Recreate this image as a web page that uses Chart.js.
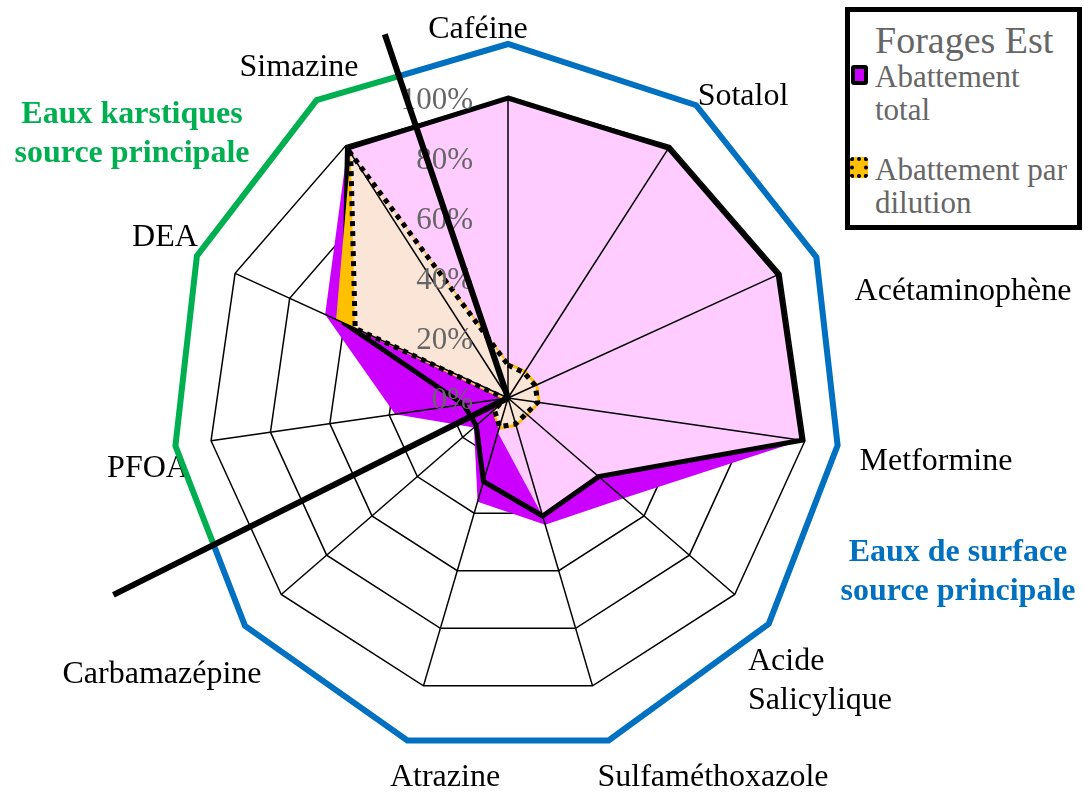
<!DOCTYPE html>
<html lang="fr">
<head>
<meta charset="utf-8">
<title>Forages Est</title>
<script src="https://cdn.jsdelivr.net/npm/chart.js@4.4.1/dist/chart.umd.min.js"></script>
<style>
  html, body { margin: 0; padding: 0; background: #fff; }
  #wrap { position: relative; width: 1084px; height: 794px; overflow: hidden; font-family: 'Liberation Serif', 'DejaVu Serif', serif; }
  #chart { position: absolute; left: 0; top: 0; }
  .group { position: absolute; transform: translateX(-50%); text-align: center; font-weight: bold; font-size: 32px; line-height: 39px; white-space: nowrap; }
  #karst { left: 132px; top: 93px; color: #00B050; }
  #surface { left: 958px; top: 531px; color: #0070C0; }
  #legend { position: absolute; left: 845px; top: 7px; width: 237px; height: 223px; border: 5px solid #000; box-sizing: border-box; background: #fff; }
  #legend .title { position: absolute; left: 25px; top: 9px; font-size: 38px; line-height: 38px; color: #666; white-space: nowrap; }
  #legend .item { position: absolute; left: 25px; width: 205px; font-size: 31px; line-height: 33px; color: #666; }
  #legend .swatch { position: absolute; box-sizing: border-box; border-radius: 3px; }
</style>
</head>
<body>
<div id="wrap">
  <canvas id="chart" width="1084" height="794"></canvas>
  <div class="group" id="karst"></div>
  <div class="group" id="surface"></div>
  <div id="legend"></div>
</div>
<script>
// ---------------- data ----------------
const CATEGORIES = ['Caféine', 'Sotalol', 'Acétaminophène', 'Metformine', ['Acide', 'Salicylique'],
  'Sulfaméthoxazole', 'Atrazine', 'Carbamazépine', 'PFOA', 'DEA', 'Simazine'];
const TICKS = [0, 20, 40, 60, 80, 100];

// Abattement total (%)
const totalLine = [100, 99, 99, 99, 40, 41, 29, 14, 15, 60, 99];
const totalArea = [100, 99, 99, 99, 51, 44, 36, 15, 38, 67, 99];
const totalCore = [100, 99, 99, 99, 40, 41, 12, 3, 0, 50, 99];

// Abattement par dilution (%)
const dilutionLine = [11, 10, 10, 10, 8, 9, 10, 6, 1, 56, 97];
const dilutionArea = [12, 11, 11, 11, 9, 10, 11, 7, 2, 63, 97];

const SERIES = ['Abattement total', 'Abattement par dilution'];
const TITLE = 'Forages Est';
const KARST = ['PFOA', 'DEA', 'Simazine'];
const GROUPS = [['Eaux karstiques', 'source principale'], ['Eaux de surface', 'source principale']];

// ---------------- layout ----------------
// label anchor offsets from the radar centre: [dx, dy, align]
const LABEL_OFFSETS = [
  [-30, -368, 'center'], [235, -301, 'center'], [455, -106, 'center'], [428, 64, 'center'],
  [240, 283, 'left'], [205, 380, 'center'], [-63, 380, 'center'], [-346, 277, 'center'],
  [-360, 71, 'center'], [-343, -160, 'center'], [-209, -330, 'center']
];
// distance of the group outline from the centre, per spoke, in scale units
const GROUP_RING = [118, 116, 113, 111, 115, 119, 119, 116, 112, 114, 118];

const radarDecor = {
  id: 'radarDecor',
  afterDatasetsDraw(chart) {
    const ctx = chart.ctx;
    const r = chart.scales.r;
    const n = CATEGORIES.length;
    const cx = r.xCenter, cy = r.yCenter;
    const at = (i, v) => r.getPointPosition(i, r.getDistanceFromCenterForValue(v));
    const lerp = (a, b, t) => ({ x: a.x + (b.x - a.x) * t, y: a.y + (b.y - a.y) * t });

    ctx.save();
    // spokes sit on top of the filled areas
    ctx.strokeStyle = '#000';
    ctx.lineWidth = 1.5;
    for (let i = 0; i < n; i++) {
      const p = at(i, 100);
      ctx.beginPath();
      ctx.moveTo(cx, cy);
      ctx.lineTo(p.x, p.y);
      ctx.stroke();
    }

    // percentage ticks along the first spoke
    ctx.font = '31px "Liberation Serif"';
    ctx.fillStyle = '#666';
    ctx.textAlign = 'right';
    ctx.textBaseline = 'middle';
    TICKS.forEach(v => ctx.fillText(v + '%', cx - 35, cy - r.getDistanceFromCenterForValue(v) + 3));

    // category names
    ctx.font = '32px "Liberation Serif"';
    ctx.fillStyle = '#000';
    CATEGORIES.forEach((name, i) => {
      const [dx, dy, align] = LABEL_OFFSETS[i];
      const lines = [].concat(name);
      ctx.textAlign = align;
      lines.forEach((line, k) => ctx.fillText(line, cx + dx, cy + dy + (k - (lines.length - 1) / 2) * 39));
    });

    // outline of the two water-source groups
    const karst = KARST.map(k => CATEGORIES.indexOf(k));
    const first = karst[0], last = karst[karst.length - 1];
    const ring = i => { const j = (i + n) % n; return at(j, GROUP_RING[j]); };
    const top = lerp(ring(last), ring(last + 1), 0.43);
    const low = lerp(ring(first - 1), ring(first), 0.45);
    ctx.lineWidth = 6;
    ctx.lineJoin = 'miter';

    ctx.strokeStyle = '#00B050';
    ctx.beginPath();
    ctx.moveTo(low.x, low.y);
    karst.forEach(i => { const p = ring(i); ctx.lineTo(p.x, p.y); });
    ctx.lineTo(top.x, top.y);
    ctx.stroke();

    ctx.strokeStyle = '#0070C0';
    ctx.beginPath();
    ctx.moveTo(top.x, top.y);
    for (let i = last + 1; i <= first - 1 + n; i++) { const p = ring(i); ctx.lineTo(p.x, p.y); }
    ctx.lineTo(low.x, low.y);
    ctx.stroke();

    // separators between the groups
    ctx.strokeStyle = '#000';
    [[top, 128], [low, 147]].forEach(([p, len]) => {
      const d = Math.hypot(p.x - cx, p.y - cy);
      const L = r.getDistanceFromCenterForValue(len);
      ctx.beginPath();
      ctx.moveTo(cx, cy);
      ctx.lineTo(cx + (p.x - cx) / d * L, cy + (p.y - cy) / d * L);
      ctx.stroke();
    });
    ctx.restore();
  }
};

new Chart(document.getElementById('chart'), {
  type: 'radar',
  data: {
    labels: CATEGORIES,
    datasets: [
      { label: SERIES[1], data: dilutionLine, fill: true, backgroundColor: '#FBE5D6',
        borderColor: '#000', borderWidth: 5, borderDash: [5, 5], borderCapStyle: 'butt' },
      { label: SERIES[1], data: dilutionArea, fill: true, backgroundColor: '#FFC000', borderWidth: 0 },
      { label: SERIES[0], data: totalLine, fill: false, backgroundColor: 'transparent',
        borderColor: '#000', borderWidth: 5, borderJoinStyle: 'miter' },
      { label: SERIES[0], data: totalCore, fill: true, backgroundColor: '#FFCCFF', borderWidth: 0 },
      { label: SERIES[0], data: totalArea, fill: true, backgroundColor: '#CC00FF', borderWidth: 0 }
    ]
  },
  options: {
    responsive: false,
    animation: false,
    devicePixelRatio: 1,
    events: [],
    layout: { padding: { left: 208, right: 276, top: 98, bottom: 96 } },
    elements: { point: { radius: 0 }, line: { tension: 0 } },
    plugins: { legend: { display: false }, tooltip: { enabled: false } },
    scales: {
      r: {
        min: 0, max: 100,
        ticks: { display: false, stepSize: 20 },
        pointLabels: { display: false },
        grid: { color: '#000', lineWidth: 1.5 },
        angleLines: { display: false }
      }
    }
  },
  plugins: [radarDecor]
});

// group captions
document.getElementById('karst').innerHTML = GROUPS[0].join('<br>');
document.getElementById('surface').innerHTML = GROUPS[1].join('<br>');

// legend box
const legend = document.getElementById('legend');
legend.innerHTML =
  `<div class="title">${TITLE}</div>` +
  `<div class="swatch" style="left:1px;top:53px;width:17px;height:20px;background:#CC00FF;border:4px solid #000"></div>` +
  `<div class="item" style="top:48px">${SERIES[0]}</div>` +
  `<div class="swatch" style="left:0;top:145px;width:18px;height:21px;background:#FFC000;border:4px dotted #000"></div>` +
  `<div class="item" style="top:141px">${SERIES[1]}</div>`;
</script>
</body>
</html>
